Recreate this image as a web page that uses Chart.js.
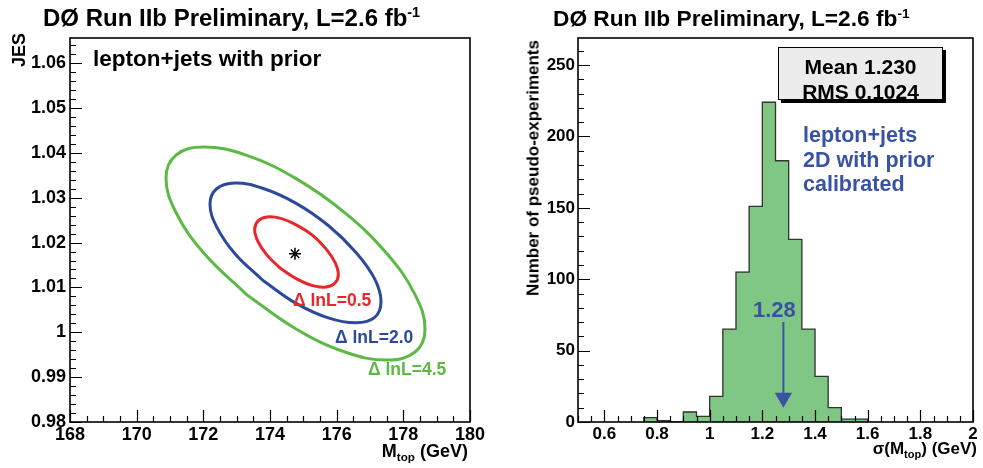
<!DOCTYPE html>
<html>
<head>
<meta charset="utf-8">
<script src="https://cdn.jsdelivr.net/npm/chart.js@4"></script>
<style>
  html, body { margin: 0; padding: 0; background: #fff; }
  #wrap { position: relative; width: 983px; height: 468px; overflow: hidden;
          font-family: 'Liberation Sans', Arial, sans-serif; font-weight: bold; color: #000; }
  canvas { position: absolute; top: 0; }
  .t { position: absolute; white-space: nowrap; line-height: 1; }
  .t sup { font-size: 60%; vertical-align: 0; position: relative; top: -0.6em; }
  .t sub { font-size: 65%; vertical-align: 0; position: relative; top: 0.35em; }
  .rot { transform-origin: 0 0; transform: rotate(-90deg) translate(-100%, -50%); }
  #stats { position: absolute; left: 778px; top: 47px; width: 163px; height: 51px;
           background: #ececec; border: 1.5px solid #000; box-shadow: 3px 3px 0 #000; }
  #stats div { position: absolute; left: 0; width: 100%; text-align: center; font-size: 21px; line-height: 1; }
</style>
</head>
<body>
<div id="wrap">
  <canvas id="contourChart" width="490" height="468" style="left:0"></canvas>
  <canvas id="histChart" width="493" height="468" style="left:490px"></canvas>

  <!-- left panel texts -->
  <div class="t" style="left:43px; top:6px; font-size:24px">DØ Run IIb Preliminary, L=2.6 fb<sup>-1</sup></div>
  <div class="t" style="left:93px; top:48px; font-size:22.5px">lepton+jets with prior</div>
  <div class="t rot" style="left:19px; top:33px; font-size:18px">JES</div>
  <div class="t" style="right:515px; top:442px; font-size:18px">M<sub>top</sub> (GeV)</div>
  <div class="t" style="left:293px; top:292px; font-size:17.5px; color:#e8262b">&Delta; lnL=0.5</div>
  <div class="t" style="left:335px; top:329px; font-size:17.5px; color:#2c4a9c">&Delta; lnL=2.0</div>
  <div class="t" style="left:368px; top:361px; font-size:17.5px; color:#5cb946">&Delta; lnL=4.5</div>

  <!-- right panel texts -->
  <div class="t" style="left:553px; top:7px; font-size:22.7px">DØ Run IIb Preliminary, L=2.6 fb<sup>-1</sup></div>
  <div class="t rot" style="left:533px; top:40px; font-size:17px">Number of pseudo-experiments</div>
  <div class="t" style="right:6px; top:440px; font-size:17px">&sigma;(M<sub>top</sub>) (GeV)</div>
  <div id="stats">
    <div style="top:8px">Mean 1.230</div>
    <div style="top:33px">RMS 0.1024</div>
  </div>
  <div class="t" style="left:803px; top:123px; font-size:21.5px; color:#3853a4; line-height:24.5px">lepton+jets<br>2D with prior<br>calibrated</div>
  <div class="t" style="left:753px; top:299px; font-size:22px; color:#3853a4">1.28</div>
</div>

<script>
'use strict';

// ── data ─────────────────────────────────────────────────────
// likelihood contours, [M_top (GeV), JES] points traced around each ellipse
const CONTOUR_05 = [
    [174.32, 1.0142], [173.91, 1.0172], [173.64, 1.0202], [173.54, 1.0229],
    [173.64, 1.0248], [173.91, 1.0257], [174.32, 1.0254], [174.80, 1.0239],
    [175.28, 1.0216], [175.68, 1.0186], [175.95, 1.0156], [176.05, 1.0129],
    [175.95, 1.0110], [175.68, 1.0101], [175.28, 1.0104], [174.80, 1.0119]
];
const CONTOUR_20 = [
    [173.78, 1.0116], [172.95, 1.0175], [172.40, 1.0235], [172.20, 1.0286],
    [172.40, 1.0320], [172.95, 1.0333], [173.78, 1.0321], [174.77, 1.0288],
    [175.75, 1.0238], [176.58, 1.0178], [177.14, 1.0119], [177.33, 1.0068],
    [177.14, 1.0033], [176.58, 1.0021], [175.75, 1.0032], [174.77, 1.0065]
];
const CONTOUR_45 = [
    [173.28, 1.0085], [172.02, 1.0176], [171.18, 1.0267], [170.88, 1.0344],
    [171.18, 1.0395], [172.02, 1.0413], [173.28, 1.0395], [174.77, 1.0343],
    [176.25, 1.0266], [177.51, 1.0175], [178.35, 1.0084], [178.65, 1.0007],
    [178.35, 0.9956], [177.51, 0.9938], [176.25, 0.9956], [174.77, 1.0008]
];
const BEST_FIT = [174.75, 1.0175];

const MTOP_TICKS = [168, 170, 172, 174, 176, 178, 180];
const JES_TICKS  = [0.98, 0.99, 1, 1.01, 1.02, 1.03, 1.04, 1.05, 1.06];

// pseudo-experiment histogram, bins of 0.05 GeV
const BIN_WIDTH = 0.05;
const BIN_LOW   = [0.75, 0.80, 0.85, 0.90, 0.95, 1.00, 1.05, 1.10, 1.15,
                   1.20, 1.25, 1.30, 1.35, 1.40, 1.45, 1.50, 1.55];
const COUNTS    = [3, 1, 0, 7, 4, 18, 65, 105, 151,
                   224, 183, 128, 65, 32, 10, 2, 2];
const ARROW_X   = 1.28;
const ARROW_Y   = [70, 17];

const SIGMA_TICKS = [0.6, 0.8, 1, 1.2, 1.4, 1.6, 1.8, 2];
const COUNT_TICKS = [0, 50, 100, 150, 200, 250];

Chart.defaults.font.family = "'Liberation Sans', Arial, sans-serif";
Chart.defaults.font.weight = 'bold';
Chart.defaults.color = '#000';
Chart.defaults.animation = false;

const toXY = pts => pts.map(p => ({ x: p[0], y: p[1] }));
const closed = pts => toXY(pts.concat([pts[0]]));

// values between min and max on a fixed step, flagged when on a labelled tick
function stepValues(scale, step) {
    const majors = scale.ticks.map(t => t.value);
    const out = [];
    const k0 = Math.ceil(scale.min / step - 1e-6);
    const k1 = Math.floor(scale.max / step + 1e-6);
    for (let k = k0; k <= k1; k++) {
        const v = k * step;
        out.push([v, majors.some(m => Math.abs(m - v) < step / 10)]);
    }
    return out;
}

// ROOT-style frame: inward ticks on bottom and left, box around the pad
function rootFrame(minorX, minorY) {
    return {
        id: 'rootFrame',
        afterDatasetsDraw(chart) {
            const { ctx, chartArea: a } = chart;
            const xs = chart.scales.x, ys = chart.scales.y;
            ctx.save();
            ctx.strokeStyle = '#000';
            ctx.lineWidth = 1.2;
            ctx.beginPath();
            stepValues(xs, minorX).forEach(([v, major]) => {
                const px = Math.round(xs.getPixelForValue(v)) + 0.5;
                ctx.moveTo(px, a.bottom);
                ctx.lineTo(px, a.bottom - (major ? 12 : 6));
            });
            stepValues(ys, minorY).forEach(([v, major]) => {
                const py = Math.round(ys.getPixelForValue(v)) + 0.5;
                ctx.moveTo(a.left, py);
                ctx.lineTo(a.left + (major ? 12 : 6), py);
            });
            ctx.stroke();
            ctx.lineWidth = 1.6;
            ctx.strokeRect(a.left, a.top, a.right - a.left, a.bottom - a.top);
            ctx.restore();
        }
    };
}

document.addEventListener('DOMContentLoaded', function () {

    // ── 1. JES vs M_top likelihood contours ──────────────────
    const contour = (label, pts, color) => ({
        label,
        data: closed(pts),
        showLine: true,
        borderColor: color,
        borderWidth: 3,
        pointRadius: 0,
        tension: 0.4,
        fill: false,
    });

    new Chart(document.getElementById('contourChart'), {
        type: 'scatter',
        data: {
            datasets: [
                {
                    label: 'best fit',
                    data: toXY([BEST_FIT]),
                    pointStyle: 'star',
                    pointRadius: 6,
                    borderColor: '#000',
                    borderWidth: 1.5,
                },
                contour('Δ lnL=0.5', CONTOUR_05, '#e8262b'),
                contour('Δ lnL=2.0', CONTOUR_20, '#2c4a9c'),
                contour('Δ lnL=4.5', CONTOUR_45, '#5cb946'),
            ]
        },
        options: {
            responsive: false,
            layout: { padding: { top: 38, right: 20, left: 0, bottom: 0 } },
            plugins: { legend: { display: false }, tooltip: { enabled: false } },
            scales: {
                x: {
                    type: 'linear', min: 168, max: 180,
                    grid: { display: false, drawTicks: false },
                    border: { display: false },
                    ticks: { padding: 2, font: { size: 18 }, callback: v => String(v) },
                    afterBuildTicks: s => { s.ticks = MTOP_TICKS.map(v => ({ value: v })); },
                    afterFit: s => { s.height = 46; }
                },
                y: {
                    type: 'linear', min: 0.98, max: 1.0656,
                    grid: { display: false, drawTicks: false },
                    border: { display: false },
                    ticks: { padding: 4, font: { size: 18 }, callback: v => String(v) },
                    afterBuildTicks: s => { s.ticks = JES_TICKS.map(v => ({ value: v })); },
                    afterFit: s => { s.width = 70; }
                }
            }
        },
        plugins: [rootFrame(0.5, 0.002)]
    });


    // ── 2. sigma(M_top) pseudo-experiment histogram ──────────
    const outline = [{ x: BIN_LOW[0], y: 0 }]
        .concat(BIN_LOW.map((lo, i) => ({ x: lo, y: COUNTS[i] })))
        .concat([{ x: BIN_LOW[BIN_LOW.length - 1] + BIN_WIDTH, y: 0 }]);

    new Chart(document.getElementById('histChart'), {
        type: 'bar',
        data: {
            datasets: [
                {
                    type: 'line',
                    label: 'arrow',
                    data: ARROW_Y.map(y => ({ x: ARROW_X, y })),
                    borderColor: '#3853a4',
                    backgroundColor: '#3853a4',
                    borderWidth: 2,
                    pointStyle: 'triangle',
                    pointRotation: 180,
                    pointRadius: [0, 10],
                    pointBorderWidth: 0,
                    order: 0,
                },
                {
                    type: 'line',
                    label: 'outline',
                    data: outline,
                    stepped: 'before',
                    borderColor: '#333',
                    borderWidth: 1.3,
                    pointRadius: 0,
                    fill: false,
                    order: 1,
                },
                {
                    type: 'bar',
                    label: 'pseudo-experiments',
                    data: BIN_LOW.map((lo, i) => ({ x: lo + BIN_WIDTH / 2, y: COUNTS[i] })),
                    backgroundColor: '#80c684',
                    borderWidth: 0,
                    barPercentage: 1,
                    categoryPercentage: 1,
                    grouped: false,
                    order: 2,
                }
            ]
        },
        options: {
            responsive: false,
            layout: { padding: { top: 38, right: 7, left: 0, bottom: 0 } },
            plugins: { legend: { display: false }, tooltip: { enabled: false } },
            scales: {
                x: {
                    type: 'linear', min: 0.5, max: 2, offset: false,
                    grid: { display: false, drawTicks: false, offset: false },
                    border: { display: false },
                    ticks: { padding: 2, font: { size: 17 }, callback: v => String(v) },
                    afterBuildTicks: s => { s.ticks = SIGMA_TICKS.map(v => ({ value: v })); },
                    afterFit: s => { s.height = 46; }
                },
                y: {
                    type: 'linear', min: 0, max: 269,
                    grid: { display: false, drawTicks: false },
                    border: { display: false },
                    ticks: { padding: 3, font: { size: 17 }, callback: v => String(v) },
                    afterBuildTicks: s => { s.ticks = COUNT_TICKS.map(v => ({ value: v })); },
                    afterFit: s => { s.width = 88; }
                }
            }
        },
        plugins: [rootFrame(0.05, 10)]
    });

});
</script>
</body>
</html>
